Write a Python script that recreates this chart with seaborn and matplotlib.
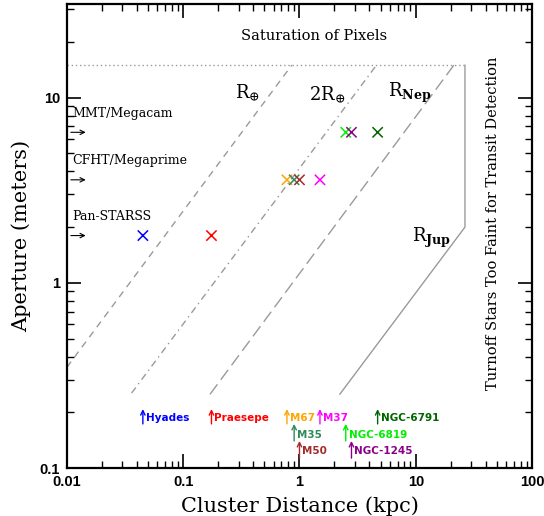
import matplotlib
matplotlib.use("Agg")
import matplotlib.pyplot as plt
import seaborn as sns
import pandas as pd
from matplotlib.ticker import FixedLocator, FixedFormatter, LogLocator, NullFormatter

# ---------------- data ----------------
clusters = ["Hyades", "Praesepe", "M67", "M35", "M50", "M37", "NGC-6819", "NGC-1245", "NGC-6791"]
distance_kpc = [0.045, 0.175, 0.78, 0.90, 1.0, 1.5, 2.5, 2.8, 4.7]
aperture_m = [1.8, 1.8, 3.6, 3.6, 3.6, 3.6, 6.5, 6.5, 6.5]
cluster_colors = ["#0000ff", "#ff0000", "#ffa500", "#2e8b57", "#a52a2a",
                  "#ff00ff", "#00ee00", "#8b008b", "#006400"]
label_row = [0, 0, 0, 1, 2, 0, 1, 2, 0]

instruments = ["MMT/Megacam", "CFHT/Megaprime", "Pan-STARSS"]
instrument_aperture = [6.5, 3.6, 1.8]

rearth_d = [0.01, 0.86]
rearth_A = [0.35, 15.0]
r2earth_d = [0.036, 4.6]
r2earth_A = [0.254, 15.0]
rnep_d = [0.17, 21.3]
rnep_A = [0.25, 15.0]
rjup_d = [2.22, 26.5, 26.5]
rjup_A = [0.25, 2.0, 15.0]
sat_d = [0.01, 26.5]
sat_A = [15.0, 15.0]

xticks = [0.01, 0.1, 1, 10, 100]
xticklabels = ["0.01", "0.1", "1", "10", "100"]
yticks = [0.1, 1, 10]
yticklabels = ["0.1", "1", "10"]

# ---------------- style ----------------
sns.set_style("ticks")
plt.rcParams["font.family"] = ["DejaVu Serif"]
plt.rcParams["mathtext.fontset"] = "dejavuserif"
plt.rcParams["text.color"] = "black"
plt.rcParams["axes.labelcolor"] = "black"
plt.rcParams["xtick.color"] = "black"
plt.rcParams["ytick.color"] = "black"

fig = plt.figure(figsize=(5.44, 5.16), dpi=100)
ax = fig.add_axes([0.123, 0.093, 0.855, 0.899])
ax.set_xscale("log")
ax.set_yscale("log")
ax.set_xlim(0.01, 100)
ax.set_ylim(0.1, 32)

gray = "#9a9a9a"
def line(d, A, **kw):
    df = pd.DataFrame({"d": d, "A": A})
    sns.lineplot(data=df, x="d", y="A", ax=ax, sort=False, estimator=None,
                 color=gray, lw=1.0, legend=False, **kw)

line(sat_d, sat_A, linestyle=(0, (1, 2)))
line(rearth_d, rearth_A, linestyle=(0, (5, 4)))
line(r2earth_d, r2earth_A, linestyle=(0, (5, 3, 1, 3)))
line(rnep_d, rnep_A, linestyle=(0, (9, 4)))
line(rjup_d, rjup_A, linestyle="-")

pts = pd.DataFrame({"cluster": clusters, "d": distance_kpc, "A": aperture_m})
sns.scatterplot(data=pts, x="d", y="A", hue="cluster", palette=cluster_colors,
                marker="x", s=55, linewidth=1.1, legend=False, ax=ax, zorder=5)

# cluster arrows + labels at bottom
row_bottom = [0.173, 0.140, 0.113]
row_top = [0.208, 0.173, 0.140]
row_text = [0.186, 0.151, 0.123]
for name, d, c, r in zip(clusters, distance_kpc, cluster_colors, label_row):
    ax.annotate("", xy=(d, row_top[r]), xytext=(d, row_bottom[r]),
                arrowprops=dict(arrowstyle="->", color=c, lw=1.0,
                                shrinkA=0, shrinkB=0, mutation_scale=8))
    ax.text(d * 1.06, row_text[r], name, color=c, fontsize=7.5,
            fontweight="bold", family="DejaVu Sans", va="center", ha="left")

# instruments
for name, a in zip(instruments, instrument_aperture):
    ax.annotate("", xy=(0.0145, a), xytext=(0.0108, a),
                arrowprops=dict(arrowstyle="->", color="black", lw=0.8,
                                shrinkA=0, shrinkB=0, mutation_scale=8))
    ax.text(0.0111, a * 1.17, name, fontsize=9, va="bottom", ha="left")

# line labels
ax.text(0.36, 10.6, r"$\mathrm{R}_{\oplus}$", fontsize=13, ha="center", va="center")
ax.text(1.72, 10.4, r"$\mathrm{2R}_{\oplus}$", fontsize=13, ha="center", va="center")
ax.text(8.9, 10.6, r"$\mathrm{R}_{\mathbf{Nep}}$", fontsize=13, ha="center", va="center")
ax.text(13.7, 1.75, r"$\mathrm{R}_{\mathbf{Jup}}$", fontsize=13, ha="center", va="center")

ax.text(1.33, 21.6, "Saturation of Pixels", fontsize=10.5, ha="center", va="center")
ax.text(46, 2.1, "Turnoff Stars Too Faint for Transit Detection", fontsize=10.5,
        rotation=90, ha="center", va="center")

# axes styling
for s in ax.spines.values():
    s.set_linewidth(1.6)
    s.set_color("black")
ax.xaxis.set_major_locator(FixedLocator(xticks))
ax.xaxis.set_major_formatter(FixedFormatter(xticklabels))
ax.yaxis.set_major_locator(FixedLocator(yticks))
ax.yaxis.set_major_formatter(FixedFormatter(yticklabels))
ax.xaxis.set_minor_locator(LogLocator(base=10, subs=range(2, 10)))
ax.yaxis.set_minor_locator(LogLocator(base=10, subs=range(2, 10)))
ax.xaxis.set_minor_formatter(NullFormatter())
ax.yaxis.set_minor_formatter(NullFormatter())
ax.tick_params(which="both", direction="in", top=True, right=True, color="black")
ax.tick_params(which="major", length=10, width=1.2, labelsize=10.5, pad=5)
ax.tick_params(which="minor", length=5, width=1.0)
for lab in ax.get_xticklabels() + ax.get_yticklabels():
    lab.set_family("Liberation Sans")
    lab.set_fontweight("bold")

ax.set_xlabel("Cluster Distance (kpc)", fontsize=15, labelpad=5)
ax.set_ylabel("Aperture (meters)", fontsize=15, labelpad=6)

fig.savefig("out.png", dpi=100)
